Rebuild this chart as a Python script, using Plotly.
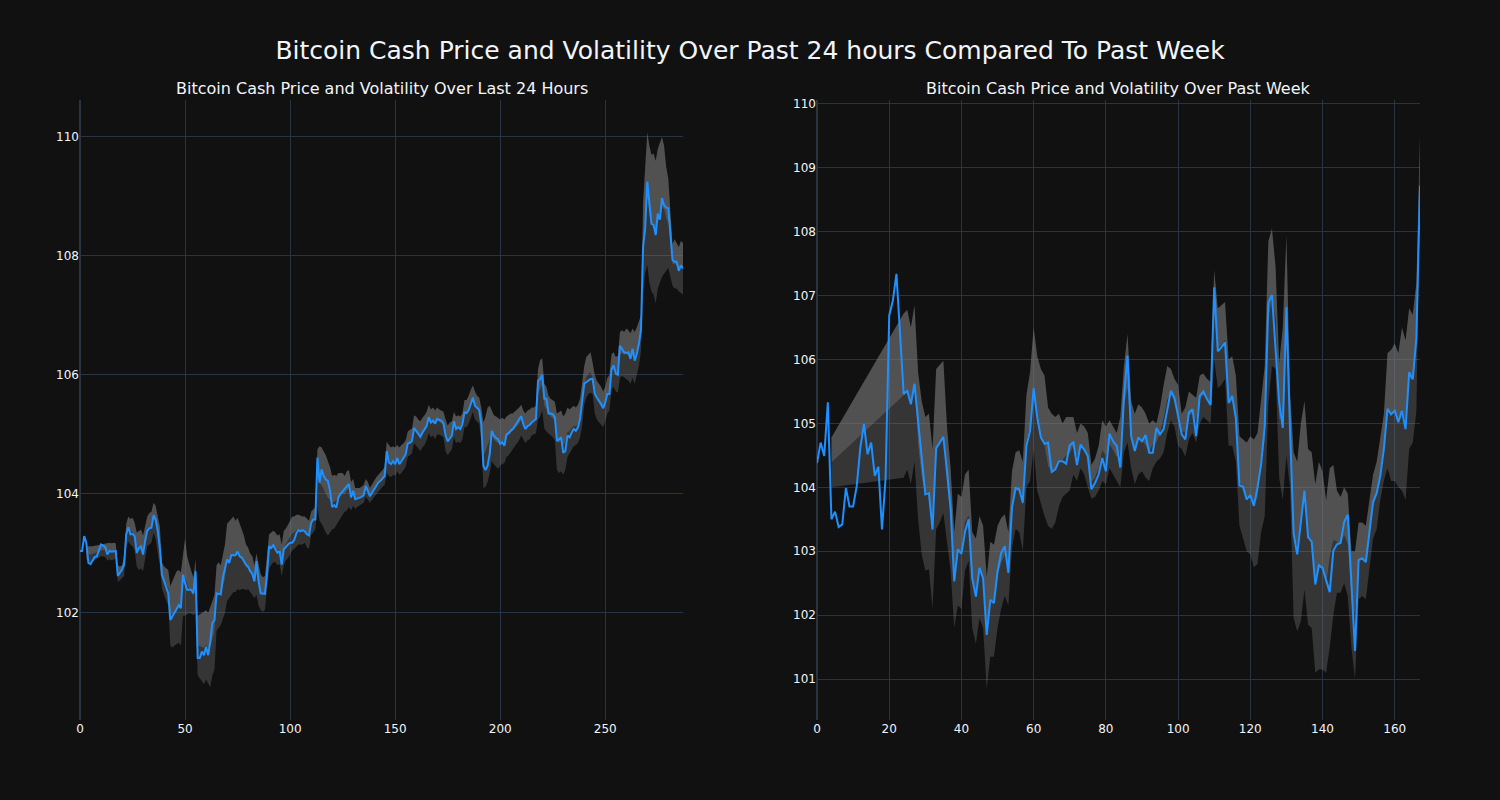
import plotly.graph_objects as go
from plotly.subplots import make_subplots

# ---------------- Data: last 24 hours (5-minute steps) ----------------
day_price = [
    103.04, 103.04, 103.29, 103.18, 102.84, 102.82, 102.88, 102.94, 102.95, 103.07,
    103.15, 103.13, 103.11, 102.98, 103.04, 103.03, 103.04, 103.04, 102.62, 102.67,
    102.73, 102.81, 103.32, 103.44, 103.32, 103.33, 103.29, 103.01, 103.09, 103.12,
    102.98, 103.21, 103.38, 103.42, 103.43, 103.64, 103.57, 103.38, 103.09, 102.64,
    102.53, 102.45, 102.33, 101.88, 101.94, 102.00, 102.05, 102.13, 102.08, 102.64,
    102.50, 102.39, 102.39, 102.39, 102.33, 102.70, 101.24, 101.24, 101.35, 101.29,
    101.43, 101.29, 101.52, 101.83, 101.88, 102.33, 102.32, 102.31, 102.59, 102.73,
    102.90, 102.84, 102.97, 102.97, 102.97, 103.03, 102.95, 102.93, 102.87, 102.81,
    102.78, 102.70, 102.66, 102.53, 102.87, 102.53, 102.33, 102.32, 102.32, 102.64,
    103.12, 103.09, 103.14, 103.07, 103.01, 103.04, 102.81, 103.07, 103.12, 103.15,
    103.18, 103.18, 103.23, 103.34, 103.39, 103.37, 103.39, 103.37, 103.32, 103.30,
    103.51, 103.57, 103.57, 104.61, 104.19, 104.41, 104.30, 104.24, 104.22, 104.05,
    103.78, 103.81, 103.77, 103.94, 104.00, 104.04, 104.08, 104.13, 104.17, 103.94,
    104.05, 103.91, 103.92, 103.94, 103.95, 103.98, 104.13, 104.05, 103.96, 104.02,
    104.08, 104.13, 104.19, 104.22, 104.26, 104.30, 104.72, 104.53, 104.50, 104.55,
    104.50, 104.60, 104.50, 104.55, 104.61, 104.66, 104.85, 104.86, 104.89, 105.11,
    105.06, 105.00, 104.96, 105.03, 105.09, 105.14, 105.29, 105.20, 105.23, 105.18,
    105.26, 105.24, 105.23, 105.18, 104.98, 104.88, 104.94, 104.98, 105.22, 105.09,
    105.12, 105.09, 105.17, 105.37, 105.36, 105.41, 105.51, 105.62, 105.48, 105.45,
    105.41, 105.17, 104.47, 104.40, 104.47, 104.67, 105.06, 104.98, 104.94, 104.92,
    104.84, 104.87, 104.81, 105.00, 105.02, 105.06, 105.09, 105.14, 105.20, 105.24,
    105.31, 105.17, 105.09, 105.14, 105.16, 105.20, 105.23, 105.26, 105.90, 105.93,
    106.00, 105.60, 105.60, 105.35, 105.35, 105.34, 105.29, 104.89, 104.92, 104.95,
    104.69, 104.72, 104.98, 104.95, 105.03, 105.09, 105.06, 105.12, 105.26, 105.57,
    105.85, 105.88, 105.90, 105.93, 105.93, 105.68, 105.62, 105.57, 105.51, 105.44,
    105.54, 105.68, 105.68, 106.10, 106.16, 106.02, 106.00, 106.49, 106.44, 106.38,
    106.37, 106.38, 106.27, 106.44, 106.24, 106.35, 106.52, 106.75, 108.15, 108.46,
    109.25, 108.94, 108.54, 108.52, 108.35, 108.71, 108.61, 108.97, 108.85, 108.81,
    108.80, 108.38, 107.93, 107.90, 107.90, 107.75, 107.84, 107.79,
]

day_upper = [
    None, None, None, 103.12, 103.12, 103.11, 103.12, 103.13, 103.13, 103.14,
    103.15, 103.16, 103.16, 103.18, 103.18, 103.17, 103.18, 103.17, 102.80, 102.78,
    102.80, 102.95, 103.50, 103.62, 103.58, 103.60, 103.52, 103.35, 103.38, 103.40,
    103.30, 103.45, 103.62, 103.68, 103.70, 103.85, 103.80, 103.62, 103.45, 102.85,
    102.78, 102.75, 102.72, 102.45, 102.55, 102.62, 102.70, 102.72, 102.68, 103.00,
    103.25, 102.95, 102.80, 102.70, 102.60, 102.90, 101.95, 101.98, 102.00, 102.02,
    102.05, 102.00, 102.10, 102.20, 102.30, 102.80, 102.85, 102.80, 103.00, 103.15,
    103.50, 103.55, 103.58, 103.62, 103.55, 103.60, 103.48, 103.40, 103.30, 103.15,
    103.10, 103.00, 102.95, 102.80, 103.00, 102.85, 102.65, 102.60, 102.62, 102.95,
    103.32, 103.35, 103.38, 103.35, 103.30, 103.32, 103.15, 103.38, 103.42, 103.48,
    103.55, 103.62, 103.62, 103.65, 103.65, 103.63, 103.62, 103.62, 103.58, 103.55,
    103.70, 103.75, 103.78, 104.75, 104.80, 104.78, 104.72, 104.65, 104.55, 104.45,
    104.30, 104.32, 104.30, 104.35, 104.35, 104.35, 104.30, 104.38, 104.40, 104.20,
    104.25, 104.10, 104.10, 104.10, 104.12, 104.15, 104.25, 104.20, 104.10, 104.15,
    104.22, 104.28, 104.32, 104.35, 104.40, 104.45, 104.88, 104.82, 104.78, 104.80,
    104.78, 104.82, 104.78, 104.82, 104.85, 104.90, 105.05, 105.08, 105.10, 105.32,
    105.30, 105.25, 105.22, 105.28, 105.32, 105.38, 105.50, 105.42, 105.45, 105.40,
    105.45, 105.42, 105.40, 105.38, 105.25, 105.15, 105.20, 105.22, 105.38, 105.30,
    105.32, 105.30, 105.35, 105.58, 105.58, 105.65, 105.75, 105.82, 105.72, 105.65,
    105.62, 105.45, 105.20, 105.30, 105.45, 105.48, 105.40, 105.32, 105.30, 105.28,
    105.25, 105.28, 105.25, 105.30, 105.32, 105.35, 105.35, 105.38, 105.42, 105.45,
    105.50, 105.40, 105.35, 105.40, 105.42, 105.45, 105.45, 105.48, 106.10, 106.25,
    106.28, 105.85, 105.80, 105.65, 105.60, 105.58, 105.55, 105.35, 105.38, 105.40,
    105.30, 105.35, 105.45, 105.42, 105.45, 105.48, 105.45, 105.50, 105.60, 105.85,
    106.15, 106.30, 106.35, 106.38, 106.20, 106.00, 105.90, 105.85, 105.80, 105.72,
    105.80, 105.95, 106.00, 106.35, 106.38, 106.30, 106.32, 106.72, 106.75, 106.72,
    106.78, 106.75, 106.70, 106.78, 106.72, 106.80, 106.90, 107.00, 108.90, 109.55,
    110.08, 109.85, 109.70, 109.72, 109.60, 109.80, 109.90, 110.00, 109.85, 109.50,
    109.30, 108.80, 108.20, 108.28, 108.22, 108.15, 108.25, 108.22,
]

day_lower = [
    None, None, None, 102.90, 102.86, 102.84, 102.86, 102.88, 102.90, 102.92,
    102.95, 102.95, 102.94, 102.88, 102.90, 102.88, 102.90, 102.90, 102.52, 102.55,
    102.58, 102.62, 103.10, 103.20, 103.15, 103.12, 103.05, 102.78, 102.72, 102.75,
    102.70, 102.95, 103.12, 103.15, 103.18, 103.35, 103.25, 103.00, 102.80, 102.40,
    102.30, 102.20, 102.12, 101.45, 101.42, 101.45, 101.48, 101.50, 101.45, 101.95,
    101.95, 101.98, 102.00, 101.98, 101.96, 102.00, 100.95, 100.90, 100.85, 100.80,
    100.88, 100.82, 100.75, 100.95, 101.05, 101.70, 101.75, 101.80, 101.90, 102.00,
    102.20, 102.25, 102.30, 102.35, 102.35, 102.40, 102.38, 102.40, 102.40, 102.38,
    102.40, 102.35, 102.30, 102.25, 102.30, 102.12, 102.05, 102.02, 102.05, 102.35,
    102.75, 102.80, 102.85, 102.85, 102.80, 102.82, 102.62, 102.80, 102.88, 102.92,
    103.00, 103.05, 103.08, 103.12, 103.15, 103.15, 103.15, 103.18, 103.10, 103.08,
    103.30, 103.35, 103.40, 103.80, 103.55, 103.50, 103.42, 103.35, 103.30, 103.35,
    103.40, 103.42, 103.48, 103.55, 103.60, 103.65, 103.70, 103.72, 103.78, 103.72,
    103.80, 103.75, 103.78, 103.80, 103.82, 103.85, 103.95, 103.90, 103.85, 103.90,
    103.95, 104.00, 104.05, 104.08, 104.12, 104.15, 104.35, 104.30, 104.28, 104.32,
    104.30, 104.38, 104.32, 104.35, 104.40, 104.45, 104.62, 104.65, 104.68, 104.85,
    104.80, 104.75, 104.72, 104.78, 104.82, 104.90, 105.02, 104.95, 104.98, 104.92,
    105.00, 105.00, 104.98, 104.95, 104.72, 104.65, 104.70, 104.75, 104.95, 104.85,
    104.88, 104.85, 104.92, 105.12, 105.12, 105.18, 105.28, 105.38, 105.25, 105.22,
    105.18, 104.90, 104.10, 104.12, 104.20, 104.35, 104.55, 104.50, 104.45, 104.42,
    104.48, 104.50, 104.52, 104.62, 104.65, 104.70, 104.75, 104.80, 104.85, 104.90,
    104.98, 104.90, 104.85, 104.90, 104.92, 104.98, 105.00, 105.02, 105.25, 105.30,
    105.40, 105.10, 105.05, 105.02, 104.98, 104.95, 104.90, 104.40, 104.35, 104.38,
    104.32, 104.40, 104.62, 104.68, 104.75, 104.80, 104.82, 104.85, 104.95, 105.15,
    105.50, 105.62, 105.68, 105.70, 105.68, 105.35, 105.25, 105.20, 105.15, 105.12,
    105.22, 105.35, 105.40, 105.75, 105.80, 105.72, 105.70, 105.95, 105.98, 105.95,
    105.92, 105.90, 105.85, 105.95, 105.85, 105.98, 106.15, 106.40, 107.40, 107.70,
    107.85, 107.55, 107.40, 107.35, 107.20, 107.45, 107.55, 107.65, 107.70, 107.75,
    107.80, 107.65, 107.50, 107.45, 107.45, 107.40, 107.38, 107.35,
]

# ---------------- Data: past week (hourly steps) ----------------
week_price = [
    104.38, 104.70, 104.49, 105.33, 103.50, 103.62, 103.38, 103.42, 103.99, 103.70,
    103.70, 104.02, 104.62, 104.99, 104.52, 104.70, 104.18, 104.32, 103.34, 104.15,
    106.69, 106.92, 107.34, 106.45, 105.46, 105.51, 105.30, 105.62, 105.04, 104.49,
    103.89, 103.91, 103.34, 104.61, 104.70, 104.79, 104.25, 103.68, 102.53, 103.03,
    102.96, 103.31, 103.50, 102.58, 102.29, 102.74, 102.58, 101.69, 102.24, 102.19,
    102.68, 102.97, 103.08, 102.66, 103.68, 103.99, 103.97, 103.76, 104.65, 104.88,
    105.55, 105.09, 104.78, 104.68, 104.70, 104.24, 104.28, 104.41, 104.41, 104.37,
    104.66, 104.70, 104.35, 104.67, 104.59, 104.49, 103.97, 104.07, 104.20, 104.46,
    104.25, 104.84, 104.72, 104.65, 104.31, 105.40, 106.06, 104.80, 104.57, 104.78,
    104.72, 104.82, 104.54, 104.54, 104.93, 104.83, 104.91, 105.20, 105.51, 105.40,
    105.14, 104.83, 104.75, 105.17, 105.22, 104.80, 105.43, 105.50, 105.38, 105.29,
    107.13, 106.13, 106.19, 106.27, 105.32, 105.43, 105.08, 104.03, 104.01, 103.81,
    103.88, 103.71, 104.00, 104.36, 104.96, 106.89, 107.01, 106.22, 105.32, 104.93,
    106.82, 104.90, 103.28, 102.95, 103.46, 103.95, 103.22, 103.15, 102.48, 102.78,
    102.74, 102.56, 102.36, 103.01, 103.11, 103.13, 103.46, 103.57, 102.56, 101.44,
    102.86, 102.89, 102.83, 103.34, 103.77, 103.91, 104.18, 104.60, 105.23, 105.14,
    105.20, 105.02, 105.20, 104.91, 105.80, 105.69, 106.34, 108.72,
]

week_upper = [
    None, None, None, None, 104.78, None, None, None, None, None,
    None, None, None, None, None, None, None, None, None, None,
    None, None, None, None, 106.72, 106.78, 106.50, 106.85, 105.80, 105.35,
    105.10, 105.15, 104.60, 105.85, 105.92, 105.98, 104.95, 104.30, 103.30, 103.90,
    103.85, 104.20, 104.28, 103.30, 103.20, 103.55, 103.40, 102.60, 103.15, 103.10,
    103.40, 103.52, 103.58, 103.30, 104.25, 104.55, 104.58, 104.40, 105.45, 105.80,
    106.50, 106.05, 105.85, 105.75, 105.25, 105.15, 105.10, 105.15, 105.00, 105.10,
    105.10, 105.10, 104.85, 105.00, 104.95, 104.85, 104.35, 104.45, 104.65, 105.05,
    104.95, 105.05, 104.95, 104.85, 105.10, 105.90, 106.40, 105.35, 105.15, 105.30,
    105.25, 105.15, 105.00, 105.05, 105.00, 105.25, 105.60, 105.90, 105.85, 105.70,
    105.60, 105.15, 105.25, 105.50, 105.45, 105.40, 105.75, 105.78, 105.70, 105.65,
    107.40, 106.80, 106.85, 106.90, 106.00, 106.05, 105.75, 104.80, 104.75, 104.70,
    104.80, 104.75, 104.85, 105.40, 105.90, 107.85, 108.05, 107.45, 105.95, 106.50,
    107.95, 105.50, 104.55, 104.40, 105.00, 105.35, 104.60, 104.55, 104.05, 104.40,
    104.25, 103.80, 104.30, 104.35, 103.95, 103.85, 104.00, 103.90, 103.00, 103.00,
    103.45, 103.45, 103.40, 103.80, 104.20, 104.40, 104.75, 105.15, 106.10, 106.15,
    106.25, 106.10, 106.50, 106.30, 106.80, 106.70, 107.20, 109.50,
]

week_lower = [
    None, None, None, None, 104.00, None, None, None, None, None,
    None, None, None, None, None, None, None, None, None, None,
    None, None, None, None, 104.15, 104.28, 104.05, 104.40, 103.50, 102.95,
    102.70, 102.72, 102.10, 103.35, 103.45, 103.60, 103.10, 102.70, 101.80, 102.15,
    102.10, 102.70, 102.85, 101.80, 101.55, 101.95, 101.80, 100.85, 101.35, 101.35,
    101.80, 102.10, 102.30, 102.15, 103.05, 103.35, 103.30, 103.00, 104.00, 104.10,
    104.60, 103.95, 103.75, 103.55, 103.40, 103.35, 103.45, 103.70, 103.85, 103.90,
    103.95, 104.20, 104.10, 104.30, 104.20, 104.00, 103.82, 103.85, 103.95, 104.10,
    104.05, 104.30, 104.20, 104.10, 104.00, 104.55, 104.70, 104.30, 104.05, 104.20,
    104.25, 104.15, 104.10, 104.30, 104.40, 104.45, 104.55, 104.85, 105.05, 104.95,
    104.65, 104.60, 104.48, 104.75, 104.85, 104.70, 105.00, 105.10, 105.05, 105.00,
    106.00, 105.55, 105.60, 105.70, 104.65, 104.65, 104.40, 103.40, 103.20, 103.00,
    102.95, 102.75, 102.80, 103.30, 103.55, 105.30, 105.90, 105.85, 104.15, 103.80,
    104.50, 104.00, 101.95, 101.75, 101.90, 102.40, 101.85, 101.80, 101.10, 101.15,
    101.15, 101.10, 101.50, 102.00, 102.35, 102.35, 102.50, 102.30, 101.50, 101.00,
    102.25, 102.30, 102.25, 102.75, 103.20, 103.35, 103.80, 104.10, 104.30, 104.10,
    104.10, 104.00, 103.95, 103.80, 104.60, 104.70, 105.20, 108.55,
]

MAIN_TITLE = "Bitcoin Cash Price and Volatility Over Past 24 hours Compared To Past Week"
SUB_TITLES = ["Bitcoin Cash Price and Volatility Over Last 24 Hours",
              "Bitcoin Cash Price and Volatility Over Past Week"]
LEFT_X_TICKS = [0, 50, 100, 150, 200, 250]
RIGHT_X_TICKS = [0, 20, 40, 60, 80, 100, 120, 140, 160]
LEFT_Y_TICKS = [102, 104, 106, 108, 110]
RIGHT_Y_TICKS = [101, 102, 103, 104, 105, 106, 107, 108, 109, 110]


def midline(up, lo):
    return [None if (u is None or l is None) else (u + l) / 2 for u, l in zip(up, lo)]


FONT = "DejaVu Sans"
fig = make_subplots(rows=1, cols=2, subplot_titles=SUB_TITLES, horizontal_spacing=0.1)

DARK_FILL = "rgba(128,128,128,0.33)"
LIGHT_FILL = "rgba(128,128,128,0.58)"
LINE_COLOR = "#1E90FF"

for col, price, up, lo, gaps in [
    (1, day_price, day_upper, day_lower, False),
    (2, week_price, week_upper, week_lower, True),
]:
    xs = list(range(len(price)))
    mid = midline(up, lo)
    fig.add_trace(go.Scatter(x=xs, y=lo, mode="lines", line=dict(width=0, color="rgba(0,0,0,0)"),
                             connectgaps=gaps, showlegend=False, hoverinfo="skip"), row=1, col=col)
    fig.add_trace(go.Scatter(x=xs, y=mid, mode="lines", line=dict(width=0, color="rgba(0,0,0,0)"),
                             fill="tonexty", fillcolor=DARK_FILL, connectgaps=gaps,
                             showlegend=False, hoverinfo="skip"), row=1, col=col)
    fig.add_trace(go.Scatter(x=xs, y=up, mode="lines", line=dict(width=0, color="rgba(0,0,0,0)"),
                             fill="tonexty", fillcolor=LIGHT_FILL, connectgaps=gaps,
                             showlegend=False, hoverinfo="skip"), row=1, col=col)
    fig.add_trace(go.Scatter(x=xs, y=price, mode="lines", line=dict(width=2, color=LINE_COLOR),
                             showlegend=False), row=1, col=col)

fig.update_layout(
    template="plotly_dark",
    width=1500, height=800,
    paper_bgcolor="#111111", plot_bgcolor="#111111",
    font=dict(family=FONT, color="#f2f5fa"),
    margin=dict(l=80, r=80, t=100, b=80),
    title=dict(text=MAIN_TITLE, x=0.5, xanchor="center", y=0.937, yanchor="middle",
               font=dict(family=FONT, size=25, color="#f2f5fa")),
    showlegend=False,
)
fig.update_annotations(font=dict(family=FONT, size=16, color="#f2f5fa"))

fig.update_xaxes(range=[0, len(day_price) - 1], tickvals=LEFT_X_TICKS, row=1, col=1)
fig.update_xaxes(range=[0, len(week_price) - 1], tickvals=RIGHT_X_TICKS, row=1, col=2)
fig.update_yaxes(range=[100.2, 110.62], tickvals=LEFT_Y_TICKS, row=1, col=1)
fig.update_yaxes(range=[100.36, 110.06], tickvals=RIGHT_Y_TICKS, row=1, col=2)
fig.update_xaxes(gridcolor="#283442", zerolinecolor="#283442", tickfont=dict(size=12, family=FONT))
fig.update_yaxes(gridcolor="#283442", zerolinecolor="#283442", tickfont=dict(size=12, family=FONT))

fig.write_html(
    "out.html",
    config={"displayModeBar": False},
    post_script="document.body.style.margin='0';document.body.style.background='#111111';",
)
